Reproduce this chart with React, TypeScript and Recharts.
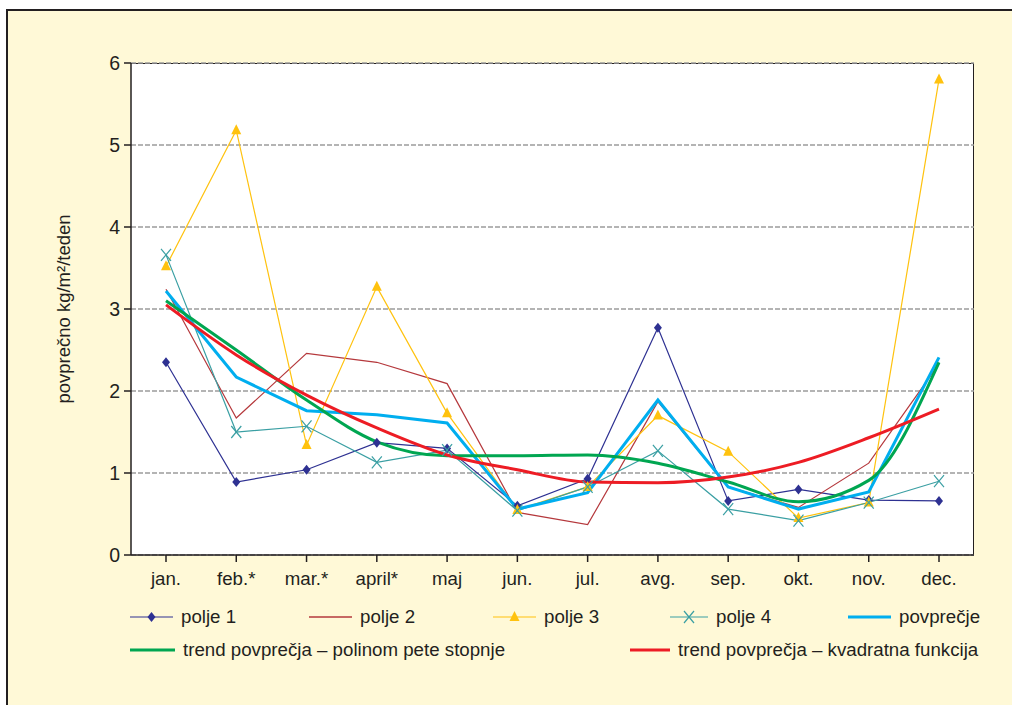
import React from 'react';
import {
  LineChart,
  Line,
  XAxis,
  YAxis,
  CartesianGrid,
} from 'recharts';

const months = ['jan.', 'feb.*', 'mar.*', 'april*', 'maj', 'jun.', 'jul.', 'avg.', 'sep.', 'okt.', 'nov.', 'dec.'];
const polje1 = [2.35, 0.89, 1.04, 1.37, 1.3, 0.6, 0.93, 2.77, 0.66, 0.8, 0.67, 0.66];
const polje2 = [3.24, 1.67, 2.46, 2.35, 2.09, 0.52, 0.37, 1.87, 0.83, 0.58, 1.12, 2.33];
const polje3 = [3.52, 5.18, 1.34, 3.27, 1.73, 0.55, 0.83, 1.7, 1.26, 0.45, 0.64, 5.8];
const polje4 = [3.66, 1.5, 1.57, 1.13, 1.28, 0.54, 0.83, 1.27, 0.56, 0.42, 0.64, 0.9];
const povprecje = [3.22, 2.17, 1.76, 1.71, 1.61, 0.56, 0.76, 1.89, 0.83, 0.56, 0.77, 2.41];
const trendPoly5 = [3.1, 2.5, 1.89, 1.38, 1.21, 1.21, 1.22, 1.12, 0.89, 0.65, 0.91, 2.35];
const trendQuad = [3.05, 2.44, 1.95, 1.55, 1.22, 1.04, 0.89, 0.88, 0.95, 1.13, 1.43, 1.78];
const yTicks = [0, 1, 2, 3, 4, 5, 6];

const data = months.map((m, i) => ({
  month: m,
  p1: polje1[i],
  p2: polje2[i],
  p3: polje3[i],
  p4: polje4[i],
  avg: povprecje[i],
  poly: trendPoly5[i],
  quad: trendQuad[i],
}));

const INK = '#231F20';
const C_P1 = '#2E3192';
const C_P2 = '#B5383C';
const C_P3 = '#FFC20E';
const C_P4 = '#3A9FA3';
const C_AVG = '#00AEEF';
const C_POLY = '#00A651';
const C_QUAD = '#ED1C24';
const FONT = '"Liberation Sans", Arial, Helvetica, sans-serif';

const Diamond = ({ cx, cy }: any) =>
  cx == null ? null : (
    <polygon points={`${cx},${cy - 5} ${cx + 4},${cy} ${cx},${cy + 5} ${cx - 4},${cy}`} fill={C_P1} />
  );

const Triangle = ({ cx, cy }: any) =>
  cx == null ? null : (
    <polygon points={`${cx},${cy - 6} ${cx + 5},${cy + 4} ${cx - 5},${cy + 4}`} fill={C_P3} />
  );

const Cross = ({ cx, cy }: any) =>
  cx == null ? null : (
    <g stroke={C_P4} strokeWidth={1.2}>
      <line x1={cx - 5} y1={cy - 6} x2={cx + 5} y2={cy + 6} />
      <line x1={cx - 5} y1={cy + 6} x2={cx + 5} y2={cy - 6} />
    </g>
  );

const legendItem = (x: number, y: number, color: string, width: number, label: string, marker?: string, lw = 2) => (
  <g key={label}>
    <line x1={x} y1={y} x2={x + width} y2={y} stroke={color} strokeWidth={lw} />
    {marker === 'diamond' && <Diamond cx={x + width / 2} cy={y} />}
    {marker === 'triangle' && <Triangle cx={x + width / 2} cy={y} />}
    {marker === 'cross' && <Cross cx={x + width / 2} cy={y} />}
    <text x={x + width + 8} y={y + 6} fontSize={18.7} fill={INK} fontFamily={FONT}>
      {label}
    </text>
  </g>
);

export default function App() {
  return (
    <div
      style={{
        position: 'absolute',
        left: 0,
        top: 0,
        width: 1012,
        height: 705,
        overflow: 'hidden',
        background: '#fff',
        fontFamily: FONT,
      }}
    >
      <div
        style={{
          position: 'absolute',
          left: 6,
          top: 9,
          width: 1100,
          height: 800,
          background: '#FFF9D7',
          borderLeft: `2px solid ${INK}`,
          borderTop: `2px solid ${INK}`,
        }}
      />
      <div
        style={{
          position: 'absolute',
          left: 131,
          top: 63,
          width: 843,
          height: 492,
          background: '#fff',
          borderTop: `1.5px solid ${INK}`,
          borderRight: `1.5px solid ${INK}`,
          boxSizing: 'border-box',
        }}
      />
      <div style={{ position: 'absolute', left: 0, top: 0 }}>
        <LineChart
          width={1012}
          height={705}
          data={data}
          margin={{ top: 63, right: 38, left: 71, bottom: 110 }}
        >
          <CartesianGrid vertical={false} stroke="#9C9C9C" strokeDasharray="5 2" strokeWidth={1.5} />
          <XAxis
            dataKey="month"
            height={40}
            padding={{ left: 35, right: 35 }}
            stroke={INK}
            strokeWidth={1.5}
            tickSize={7}
            tickMargin={10}
            tick={{ fill: INK, fontSize: 18.7, fontFamily: FONT }}
            interval={0}
          />
          <YAxis
            width={60}
            domain={[0, 6]}
            ticks={yTicks}
            stroke={INK}
            strokeWidth={1.5}
            tickSize={7}
            tickMargin={4}
            tick={{ fill: INK, fontSize: 19.5, fontFamily: FONT }}
            label={{
              value: 'povprečno kg/m²/teden',
              angle: -90,
              position: 'left',
              offset: 8,
              style: { fill: INK, fontSize: 18.5, fontFamily: FONT, textAnchor: 'middle' },
            }}
          />
          <Line dataKey="p1" stroke={C_P1} strokeWidth={1.2} dot={<Diamond />} isAnimationActive={false} />
          <Line dataKey="p2" stroke={C_P2} strokeWidth={1.2} dot={false} isAnimationActive={false} />
          <Line dataKey="p3" stroke={C_P3} strokeWidth={1.2} dot={<Triangle />} isAnimationActive={false} />
          <Line dataKey="p4" stroke={C_P4} strokeWidth={1.2} dot={<Cross />} isAnimationActive={false} />
          <Line dataKey="avg" stroke={C_AVG} strokeWidth={3} dot={false} isAnimationActive={false} />
          <Line type="monotone" dataKey="poly" stroke={C_POLY} strokeWidth={3} dot={false} isAnimationActive={false} />
          <Line type="monotone" dataKey="quad" stroke={C_QUAD} strokeWidth={3} dot={false} isAnimationActive={false} />
        </LineChart>
      </div>
      <svg style={{ position: 'absolute', left: 0, top: 0 }} width={1012} height={705}>
        {legendItem(130, 617, C_P1, 43, 'polje 1', 'diamond', 1.2)}
        {legendItem(309, 617, C_P2, 43, 'polje 2', undefined, 1.5)}
        {legendItem(493, 617, C_P3, 43, 'polje 3', 'triangle', 1.2)}
        {legendItem(670, 617, C_P4, 38, 'polje 4', 'cross', 1.2)}
        {legendItem(848, 617, C_AVG, 43, 'povprečje', undefined, 3)}
        {legendItem(130, 650, C_POLY, 45, 'trend povprečja – polinom pete stopnje', undefined, 3)}
        {legendItem(630, 650, C_QUAD, 40, 'trend povprečja – kvadratna funkcija', undefined, 3)}
      </svg>
    </div>
  );
}
